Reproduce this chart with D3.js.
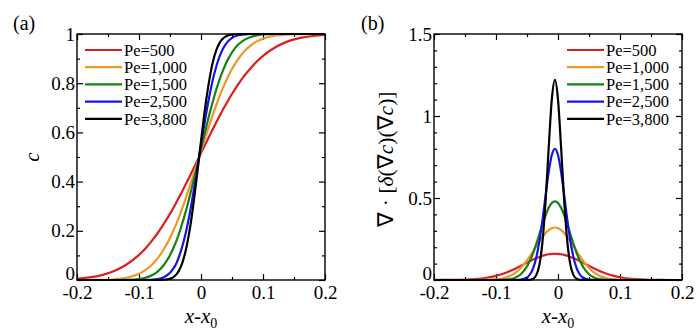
<!DOCTYPE html>
<html>
<head>
<meta charset="utf-8">
<script src="https://cdn.jsdelivr.net/npm/d3@7"></script>
<style>
  body { margin: 0; background: #fff; }
</style>
</head>
<body>
<svg width="700" height="334"></svg>
<script>
// sample positions x - x0 shared by every curve
const xs = [-0.2, -0.18, -0.16, -0.14, -0.12, -0.1, -0.09, -0.08, -0.07, -0.06,
  -0.05, -0.045, -0.04, -0.035, -0.03, -0.025, -0.02, -0.015, -0.01, -0.005,
  0, 0.005, 0.01, 0.015, 0.02, 0.025, 0.03, 0.035, 0.04, 0.05,
  0.06, 0.07, 0.08, 0.09, 0.1, 0.12, 0.14, 0.16, 0.18, 0.2];

const pe = ["Pe=500", "Pe=1,000", "Pe=1,500", "Pe=2,500", "Pe=3,800"];
const colors = ["#dc1e1e", "#f09628", "#148214", "#1414e6", "#000000"];

// (a) concentration profiles c
const conc500 = [0.005, 0.0105, 0.020, 0.0365, 0.063, 0.102, 0.127, 0.157, 0.190, 0.228,
  0.269, 0.291, 0.314, 0.338, 0.362, 0.387, 0.412, 0.438, 0.464, 0.490,
  0.516, 0.542, 0.567, 0.593, 0.618, 0.643, 0.667, 0.691, 0.713, 0.756,
  0.795, 0.831, 0.861, 0.888, 0.911, 0.946, 0.970, 0.984, 0.992, 0.996];
const conc1000 = [0, 0.0002, 0.0008, 0.003, 0.009, 0.025, 0.040, 0.060, 0.088, 0.125,
  0.171, 0.198, 0.227, 0.259, 0.293, 0.329, 0.366, 0.405, 0.444, 0.484,
  0.524, 0.564, 0.604, 0.642, 0.679, 0.714, 0.748, 0.779, 0.807, 0.858,
  0.898, 0.930, 0.953, 0.970, 0.981, 0.994, 0.998, 0.9995, 0.9999, 1];
const conc1500 = [0, 0, 0, 0.0001, 0.0008, 0.004, 0.009, 0.018, 0.034, 0.061,
  0.101, 0.127, 0.157, 0.192, 0.232, 0.275, 0.322, 0.372, 0.424, 0.478,
  0.533, 0.586, 0.638, 0.688, 0.734, 0.777, 0.816, 0.849, 0.879, 0.925,
  0.957, 0.976, 0.988, 0.994, 0.998, 1, 1, 1, 1, 1];
const conc2500 = [0, 0, 0, 0, 0, 0.0001, 0.0002, 0.001, 0.0034, 0.011,
  0.029, 0.045, 0.066, 0.098, 0.138, 0.187, 0.246, 0.314, 0.389, 0.468,
  0.548, 0.627, 0.700, 0.766, 0.824, 0.871, 0.909, 0.938, 0.959, 0.984,
  0.995, 0.998, 1, 1, 1, 1, 1, 1, 1, 1];
const conc3800 = [0, 0, 0, 0, 0, 0, 0, 0, 0.0001, 0.001,
  0.005, 0.011, 0.022, 0.041, 0.071, 0.116, 0.178, 0.257, 0.352, 0.457,
  0.565, 0.668, 0.760, 0.836, 0.895, 0.936, 0.964, 0.981, 0.990, 0.998,
  1, 1, 1, 1, 1, 1, 1, 1, 1, 1];

// (b) divergence term
const flux500 = [0.0001, 0.0003, 0.0012, 0.0039, 0.0108, 0.0254, 0.0366, 0.0508, 0.0676, 0.0863,
  0.1059, 0.1154, 0.1246, 0.1332, 0.1408, 0.1475, 0.1528, 0.1568, 0.1592, 0.16,
  0.1592, 0.1568, 0.1528, 0.1475, 0.1408, 0.1332, 0.1246, 0.1154, 0.1059, 0.0863,
  0.0676, 0.0508, 0.0366, 0.0254, 0.0169, 0.0066, 0.0022, 0.0006, 0.0001, 0];
const flux1000 = [0, 0, 0, 0, 0.0005, 0.0039, 0.0094, 0.0205, 0.0407, 0.0731,
  0.119, 0.1465, 0.1759, 0.2062, 0.2358, 0.2632, 0.2867, 0.3047, 0.3161, 0.32,
  0.3161, 0.3047, 0.2867, 0.2632, 0.2358, 0.2062, 0.1759, 0.1465, 0.119, 0.0731,
  0.0407, 0.0205, 0.0094, 0.0039, 0.0015, 0.0002, 0, 0, 0, 0];
const flux1500 = [0, 0, 0, 0, 0, 0.0002, 0.0009, 0.0036, 0.0123, 0.0347,
  0.0828, 0.1197, 0.1657, 0.2198, 0.279, 0.3392, 0.3948, 0.4401, 0.4697, 0.48,
  0.4697, 0.4401, 0.3948, 0.3392, 0.279, 0.2198, 0.1657, 0.1197, 0.0828, 0.0347,
  0.0123, 0.0036, 0.0009, 0.0002, 0, 0, 0, 0, 0, 0];
const flux2500 = [0, 0, 0, 0, 0, 0, 0, 0, 0.0002, 0.0022,
  0.0153, 0.0352, 0.0731, 0.1379, 0.236, 0.3663, 0.5155, 0.6581, 0.7618, 0.8,
  0.7618, 0.6581, 0.5155, 0.3663, 0.236, 0.1379, 0.0731, 0.0352, 0.0153, 0.0022,
  0.0002, 0, 0, 0, 0, 0, 0, 0, 0, 0];
const flux3800 = [0, 0, 0, 0, 0, 0, 0, 0, 0, 0,
  0.0003, 0.0016, 0.0077, 0.0296, 0.0921, 0.2336, 0.4814, 0.807, 1.1003, 1.22,
  1.1003, 0.807, 0.4814, 0.2336, 0.0921, 0.0296, 0.0077, 0.0016, 0.0003, 0,
  0, 0, 0, 0, 0, 0, 0, 0, 0, 0];

// ticks
const xMajor = [-0.2, -0.1, 0, 0.1, 0.2];
const xMinor = [-0.15, -0.05, 0.05, 0.15];
const cMajor = [0, 0.2, 0.4, 0.6, 0.8, 1];
const cMinor = [0.1, 0.3, 0.5, 0.7, 0.9];
const fMajor = [0, 0.5, 1, 1.5];
const fMinor = [0.1, 0.2, 0.3, 0.4, 0.6, 0.7, 0.8, 0.9, 1.1, 1.2, 1.3, 1.4];

const serif = "Liberation Serif";
const svg = d3.select("svg");
const plotTop = 34, plotBottom = 280;

function drawPanel(opt) {
  const pw = opt.right - opt.left, ph = plotBottom - plotTop;
  const g = svg.append("g").attr("transform", `translate(${opt.left},${plotTop})`);
  const x = d3.scaleLinear().domain([-0.2, 0.2]).range([0, pw]);
  const y = d3.scaleLinear().domain([0, opt.yMax]).range([ph, 0]);

  const fmt = d => String(d);
  const axes = [
    [d3.axisBottom(x).tickValues(xMajor).tickSize(-6).tickPadding(6).tickFormat(fmt), `translate(0,${ph})`],
    [d3.axisBottom(x).tickValues(xMinor).tickSize(-3).tickFormat(""), `translate(0,${ph})`],
    [d3.axisTop(x).tickValues(xMajor).tickSize(-6).tickFormat(""), null],
    [d3.axisTop(x).tickValues(xMinor).tickSize(-3).tickFormat(""), null],
    [d3.axisLeft(y).tickValues(opt.yMajor).tickSize(-6).tickPadding(2).tickFormat(fmt), null],
    [d3.axisLeft(y).tickValues(opt.yMinor).tickSize(-3).tickFormat(""), null],
    [d3.axisRight(y).tickValues(opt.yMajor).tickSize(-6).tickFormat(""), `translate(${pw},0)`],
    [d3.axisRight(y).tickValues(opt.yMinor).tickSize(-3).tickFormat(""), `translate(${pw},0)`]
  ];
  axes.forEach(([ax, tr]) => {
    const a = g.append("g").call(ax);
    if (tr) a.attr("transform", tr);
    a.attr("font-family", serif).attr("font-size", 19);
    a.select(".domain").remove();
    a.selectAll(".tick line").attr("stroke", "#000").attr("stroke-width", 1.2);
    a.selectAll("text").attr("fill", "#000");
  });
  // the zero on the value axis sits a little above the corner
  g.selectAll(".tick text").filter(function (d) {
    return d === 0 && this.getAttribute("x") !== null && +this.getAttribute("x") < 0;
  }).attr("y", -7);

  const line = d3.line()
    .x((d, i) => x(xs[i]))
    .y(d => y(d))
    .curve(d3.curveMonotoneX);

  opt.series.forEach((s, i) => {
    g.append("path")
      .attr("d", line(s))
      .attr("fill", "none")
      .attr("stroke", colors[i])
      .attr("stroke-width", 2.2)
      .attr("stroke-linejoin", "round");
  });

  g.append("rect")
    .attr("width", pw).attr("height", ph)
    .attr("fill", "none").attr("stroke", "#000").attr("stroke-width", 1.4);

  // legend
  const lg = g.append("g").attr("transform", `translate(${opt.legendX},16)`);
  pe.forEach((name, i) => {
    const row = lg.append("g").attr("transform", `translate(0,${i * 17.2})`);
    row.append("line").attr("x1", 0).attr("x2", 37)
      .attr("stroke", colors[i]).attr("stroke-width", 2.2);
    row.append("text").attr("x", 39).attr("dy", "0.35em")
      .attr("font-size", 16.5).text(name);
  });

  // panel tag
  svg.append("text").attr("x", opt.tagX).attr("y", 30)
    .attr("font-size", 20).text(opt.tag);

  // x title
  const xt = svg.append("text")
    .attr("x", opt.left + pw / 2).attr("y", 323)
    .attr("text-anchor", "middle").attr("font-size", 21);
  xt.append("tspan").attr("font-style", "italic").text("x");
  xt.append("tspan").text("-");
  xt.append("tspan").attr("font-style", "italic").text("x");
  xt.append("tspan").attr("font-size", 14).attr("dy", 5).text("0");

  return g;
}

drawPanel({
  left: 77, right: 325, yMax: 1, yMajor: cMajor, yMinor: cMinor,
  series: [conc500, conc1000, conc1500, conc2500, conc3800],
  legendX: 8, tag: "(a)", tagX: 13
});

drawPanel({
  left: 434, right: 682, yMax: 1.5, yMajor: fMajor, yMinor: fMinor,
  series: [flux500, flux1000, flux1500, flux2500, flux3800],
  legendX: 133, tag: "(b)", tagX: 361
});

// y titles
svg.append("text")
  .attr("transform", "translate(32,157) rotate(-90)")
  .attr("text-anchor", "middle").attr("dy", "0.35em")
  .attr("font-size", 21).attr("font-style", "italic").text("c");

const yt = svg.append("text")
  .attr("transform", "translate(385,159) rotate(-90)")
  .attr("text-anchor", "middle").attr("dy", "0.35em")
  .attr("font-size", 21.5);
yt.append("tspan").text("\u2207 \u00b7 [");
yt.append("tspan").attr("font-style", "italic").text("\u03b4");
yt.append("tspan").text("(\u2207");
yt.append("tspan").attr("font-style", "italic").text("c");
yt.append("tspan").text(")(\u2207");
yt.append("tspan").attr("font-style", "italic").text("c");
yt.append("tspan").text(")]");

svg.selectAll("text").attr("font-family", serif);
</script>
</body>
</html>
